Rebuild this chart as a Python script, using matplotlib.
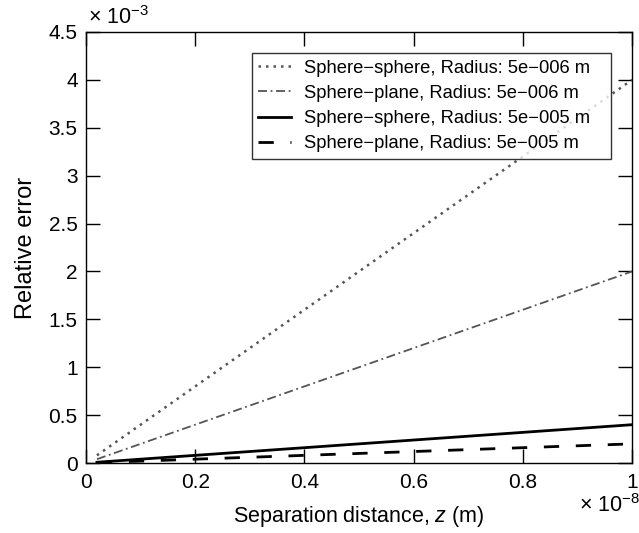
import matplotlib
matplotlib.use("Agg")
import matplotlib.pyplot as plt
from matplotlib.ticker import FuncFormatter

plt.rcParams['font.family'] = ['Liberation Sans', 'DejaVu Sans']
plt.rcParams['mathtext.fontset'] = 'custom'
plt.rcParams['mathtext.rm'] = 'Liberation Sans'
plt.rcParams['mathtext.it'] = 'Liberation Sans:italic'

# separation distances (m) at the two ends of each line
z = [2e-10, 1e-8]

# relative error at those distances
ss_small = [8e-5, 4e-3]   # sphere-sphere, R = 5e-6
sp_small = [4e-5, 2e-3]   # sphere-plane, R = 5e-6
ss_large = [8e-6, 4e-4]   # sphere-sphere, R = 5e-5
sp_large = [4e-6, 2e-4]   # sphere-plane, R = 5e-5

labels = ['Sphere\u2212sphere, Radius: 5e\u2212006 m',
          'Sphere\u2212plane, Radius: 5e\u2212006 m',
          'Sphere\u2212sphere, Radius: 5e\u2212005 m',
          'Sphere\u2212plane, Radius: 5e\u2212005 m']

xticks = [0, 0.2e-8, 0.4e-8, 0.6e-8, 0.8e-8, 1e-8]
yticks = [0, 0.5e-3, 1e-3, 1.5e-3, 2e-3, 2.5e-3, 3e-3, 3.5e-3, 4e-3, 4.5e-3]

fig = plt.figure(figsize=(6.39, 5.33), dpi=100)
ax = fig.add_axes([0.1346, 0.1313, 0.8545, 0.8087])

ax.plot(z, ss_small, color='#555555', linestyle=(0, (1, 2)), linewidth=1.8, label=labels[0])
ax.plot(z, sp_small, color='#555555', linestyle=(0, (5, 2, 1, 2)), linewidth=1.3, label=labels[1])
ax.plot(z, ss_large, color='black', linestyle='-', linewidth=2, label=labels[2])
ax.plot(z, sp_large, color='black', linestyle=(0, (5.5, 6)), linewidth=2, label=labels[3])

ax.set_xlim(0, 1e-8)
ax.set_ylim(0, 4.5e-3)
ax.set_xticks(xticks)
ax.set_yticks(yticks)
ax.xaxis.set_major_formatter(FuncFormatter(lambda v, _: f'{v / 1e-8:g}'))
ax.yaxis.set_major_formatter(FuncFormatter(lambda v, _: f'{v / 1e-3:g}'))

ax.text(0.003, 1.006, r'$\times\ 10^{-3}$', transform=ax.transAxes,
        fontsize=15.5, ha='left', va='bottom')
ax.text(1.015, -0.072, r'$\times\ 10^{-8}$', transform=ax.transAxes,
        fontsize=15.5, ha='right', va='top')

ax.tick_params(direction='in', length=10, width=1, top=True, right=True, labelsize=15)
ax.tick_params(axis='x', pad=7)
ax.tick_params(axis='y', pad=6)
for s in ax.spines.values():
    s.set_linewidth(1)

ax.set_xlabel('Separation distance, $z$ (m)', fontsize=15.5, labelpad=9)
ax.set_ylabel('Relative error', fontsize=17, labelpad=8)

leg = ax.legend(loc='upper left', bbox_to_anchor=(0.304, 0.5, 0.6575, 0.451), mode='expand',
                borderaxespad=0, fontsize=13.2, frameon=True, fancybox=False,
                edgecolor='black', handlelength=1.8, labelspacing=0.45,
                borderpad=0.35, handletextpad=0.7)
leg.get_frame().set_linewidth(1)

fig.savefig('out.png', dpi=100)
